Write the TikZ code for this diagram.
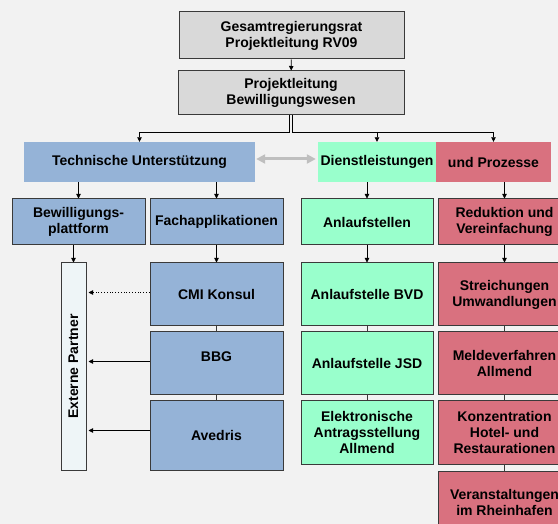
\documentclass[tikz,border=0pt]{standalone}
\usepackage{fontspec}
\setmainfont{Liberation Sans}
\usetikzlibrary{arrows.meta}
\definecolor{bg}{HTML}{F2F2F2}
\definecolor{topgray}{HTML}{D9D9D9}
\definecolor{blu}{HTML}{95B3D7}
\definecolor{mint}{HTML}{99FFCC}
\definecolor{rosered}{HTML}{D9717F}
\definecolor{pale}{HTML}{EEF5F7}
\definecolor{bdr}{HTML}{3A3A3A}
\definecolor{garrow}{HTML}{BFBFBF}
\tikzset{
  box/.style={draw=bdr, line width=1pt, inner sep=0pt, align=center},
  flat/.style={inner sep=0pt, align=center},
  arr/.style={draw=black, line width=0.8pt, -{Triangle[length=4.5pt,width=4.5pt]}},
  link/.style={draw=bdr, line width=0.9pt},
  dotarr/.style={arr, dotted},
  grayarr/.style={draw=garrow, line width=3pt, {Triangle[length=9pt,width=9pt]}-{Triangle[length=9pt,width=9pt]}}
}
\begin{document}
\begin{tikzpicture}[x=1pt,y=-1pt, font=\bfseries\fontsize{14}{16}\selectfont]
\useasboundingbox (0,0) rectangle (558,524);
\clip (0,0) rectangle (558,524);
\fill[bg] (0,0) rectangle (558,524);

% top boxes
\node[box, fill=topgray, minimum width=225pt, minimum height=47pt] (g1) at (291.5,35.5) {Gesamtregierungsrat\\Projektleitung RV09};
\node[box, fill=topgray, minimum width=226pt, minimum height=44pt] (g2) at (291,93) {Projektleitung\\Bewilligungswesen};

% row 1
\node[flat, fill=blu, minimum width=231pt, minimum height=40pt] (tu) at (139.5,162) {Technische Unterstützung};
\node[flat, fill=mint, minimum width=118pt, minimum height=40pt] (dl) at (377,162) {Dienstleistungen};
\node[flat, fill=rosered, minimum width=115pt, minimum height=40pt] (up) at (493.5,162) {und Prozesse};

% row 2
\node[box, fill=blu, minimum width=133pt, minimum height=46pt] (bp) at (78.5,222) {Bewilligungs-\\plattform};
\node[box, fill=blu, minimum width=133pt, minimum height=46pt] (fa) at (216.5,222) {Fachapplikationen};
\node[box, fill=mint, minimum width=132pt, minimum height=46pt] (an) at (367,222) {Anlaufstellen};
\node[box, fill=rosered, minimum width=133pt, minimum height=46pt] (rv) at (504.5,222) {Reduktion und\\Vereinfachung};

% externe partner
\node[box, fill=pale, minimum width=25pt, minimum height=207pt] (ep) at (73.5,366.5) {};
\node[flat, rotate=90] (eptext) at (73.5,366.5) {Externe Partner};

% blue column
\node[box, fill=blu, minimum width=133pt, minimum height=63pt] (cmi) at (216.5,294.5) {CMI Konsul};
\node[box, fill=blu, minimum width=133pt, minimum height=63pt] (bbg) at (216.5,363.5) {BBG\\[-2pt]\mbox{}};
\node[box, fill=blu, minimum width=133pt, minimum height=69pt] (ave) at (216.5,435.5) {Avedris};

% green column
\node[box, fill=mint, minimum width=132pt, minimum height=63pt] (bvd) at (367,294.5) {Anlaufstelle BVD};
\node[box, fill=mint, minimum width=132pt, minimum height=63pt] (jsd) at (367,363.5) {Anlaufstelle JSD};
\node[box, fill=mint, minimum width=132pt, minimum height=63pt] (ele) at (367,432.5) {Elektronische\\Antragsstellung\\Allmend};

% red column
\node[box, fill=rosered, minimum width=133pt, minimum height=63pt] (str) at (504.5,294.5) {Streichungen\\Umwandlungen};
\node[box, fill=rosered, minimum width=133pt, minimum height=63pt] (mel) at (504.5,363.5) {Meldeverfahren\\Allmend};
\node[box, fill=rosered, minimum width=133pt, minimum height=63pt] (kon) at (504.5,432.5) {Konzentration\\Hotel- und\\Restaurationen};
\node[box, fill=rosered, minimum width=133pt, minimum height=63pt] (ver) at (504.5,502.5) {Veranstaltungen\\im Rheinhafen};

% connectors top
\draw[arr] (g1) -- (g2);
\coordinate (split) at (292.5,132);
\draw[arr] ([xshift=-1.7pt]g2.south) -- ([xshift=-1.7pt]g2.south |- split) -| (tu.north);
\draw[arr] ([xshift=1.7pt]g2.south) -- ([xshift=1.7pt]g2.south |- split) -| (up.north);
\draw[arr] (split -| dl.north) -- (dl.north);

\draw[grayarr, shorten <=1pt, shorten >=2pt] ([yshift=3pt]tu.east) -- ([yshift=3pt]dl.west);

% row 1 -> row 2
\draw[arr] (tu.south -| bp.north) -- (bp.north);
\draw[arr] (tu.south -| fa.north) -- (fa.north);
\draw[arr] (dl.south -| an.north) -- (an.north);
\draw[arr] (up.south -| rv.north) -- (rv.north);

% row 2 -> row 3
\draw[arr] (bp.south -| ep.north) -- (ep.north);
\draw[arr] (fa) -- (cmi);
\draw[arr] (an) -- (bvd);
\draw[arr] (rv) -- (str);

% chains
\draw[link] (cmi) -- (bbg);
\draw[link] (bbg) -- (ave);
\draw[link] (bvd) -- (jsd);
\draw[link] (jsd) -- (ele);
\draw[link] (str) -- (mel);
\draw[link] (mel) -- (kon);
\draw[link] (kon) -- (ver);

% to externe partner
\draw[dotarr, shorten >=2pt] ([yshift=2pt]cmi.west) -- ([yshift=2pt]cmi.west -| ep.east);
\draw[arr, shorten >=2pt] ([yshift=2pt]bbg.west) -- ([yshift=2pt]bbg.west -| ep.east);
\draw[arr, shorten >=2pt] ([yshift=5pt]ave.west) -- ([yshift=5pt]ave.west -| ep.east);
\end{tikzpicture}
\end{document}
